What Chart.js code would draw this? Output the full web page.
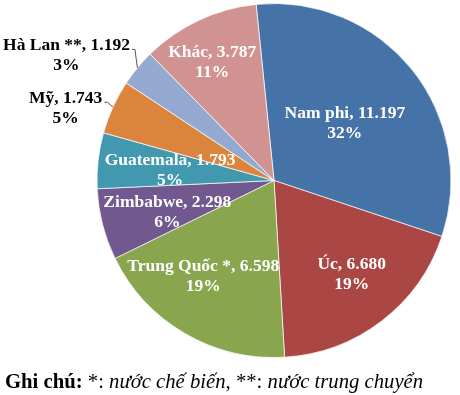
<!DOCTYPE html>
<html>
<head>
<meta charset="utf-8">
<script src="https://cdn.jsdelivr.net/npm/chart.js@4/dist/chart.umd.min.js"></script>
<style>
  html, body { margin: 0; padding: 0; background: #fff; }
  #wrap { position: relative; width: 460px; height: 395px; overflow: hidden; }
  #note { position: absolute; left: 5px; top: 370px; font-family: "Liberation Serif", "Times New Roman", serif; font-size: 20.7px; color: #000; white-space: nowrap; }
</style>
</head>
<body>
<div id="wrap">
  <canvas id="c" width="460" height="395"></canvas>
  <div id="note"><b>Ghi chú:</b> *: <i>nước chế biến</i>, **: <i>nước trung chuyển</i></div>
</div>
<script>
// ---- data ----
const categories = ['Nam phi', 'Úc', 'Trung Quốc *', 'Zimbabwe', 'Guatemala', 'Mỹ', 'Hà Lan **', 'Khác'];
const values = [11197, 6680, 6598, 2298, 1793, 1743, 1192, 3787];
const percentLabels = ['32%', '19%', '19%', '6%', '5%', '5%', '3%', '11%'];

// ---- style ----
const colors = ['#4572A7', '#AA4643', '#89A54E', '#71588F', '#4198AF', '#DB843D', '#93A9CF', '#D19392'];
// label placement: radial fraction of radius, angular nudge (deg), inside?
const placement = [
  { rf: 0.515, da: -0.3, inside: true },
  { rf: 0.69,  da: -2.0, inside: true },
  { rf: 0.675, da: 6.1,  inside: true },
  { rf: 0.63,  da: -2.5, inside: true },
  { rf: 0.59,  da: -1.2, inside: true },
  { rf: 1.246, da: -5.4, inside: false },
  { rf: 1.369, da: -8.4, inside: false },
  { rf: 0.753, da: -2.5, inside: true }
];

function fmt(v) {
  return String(v).replace(/\B(?=(\d{3})+(?!\d))/g, '.');
}

const labelPlugin = {
  id: 'sliceLabels',
  afterDatasetsDraw(chart) {
    const ctx = chart.ctx;
    const meta = chart.getDatasetMeta(0);
    ctx.save();
    ctx.font = 'bold 17.5px "Liberation Serif", "Times New Roman", serif';
    ctx.textAlign = 'center';
    ctx.textBaseline = 'middle';
    meta.data.forEach((arc, i) => {
      const p = arc.getProps(['x', 'y', 'startAngle', 'endAngle', 'outerRadius'], true);
      const pl = placement[i];
      const midRaw = (p.startAngle + p.endAngle) / 2;
      const mid = midRaw + pl.da * Math.PI / 180;
      const r = p.outerRadius * pl.rf;
      const cx = p.x + Math.cos(mid) * r;
      const cy = p.y + Math.sin(mid) * r;
      const line1 = categories[i] + ', ' + fmt(values[i]);
      const line2 = percentLabels[i];
      ctx.fillStyle = pl.inside ? '#ffffff' : '#000000';
      ctx.fillText(line1, cx, cy - 10);
      ctx.fillText(line2, cx, cy + 10);
      if (!pl.inside) {
        const w1 = ctx.measureText(line1).width;
        const sx = cx + w1 / 2 + 2;
        const sy = cy - 6;
        const ex = p.x + Math.cos(midRaw) * p.outerRadius;
        const ey = p.y + Math.sin(midRaw) * p.outerRadius;
        ctx.strokeStyle = '#555';
        ctx.lineWidth = 1;
        ctx.beginPath();
        ctx.moveTo(sx, sy);
        ctx.lineTo(sx + 3, sy);
        ctx.lineTo(ex, ey);
        ctx.stroke();
      }
    });
    ctx.restore();
  }
};

new Chart(document.getElementById('c'), {
  type: 'pie',
  data: {
    labels: categories,
    datasets: [{
      data: values,
      backgroundColor: colors,
      borderColor: 'rgba(255,255,255,0.7)',
      borderWidth: 1
    }]
  },
  options: {
    responsive: false,
    animation: false,
    rotation: -5.8,
    layout: { padding: { left: 96, right: 8, top: 3, bottom: 37 } },
    plugins: { legend: { display: false }, tooltip: { enabled: false } }
  },
  plugins: [labelPlugin]
});
</script>
</body>
</html>
